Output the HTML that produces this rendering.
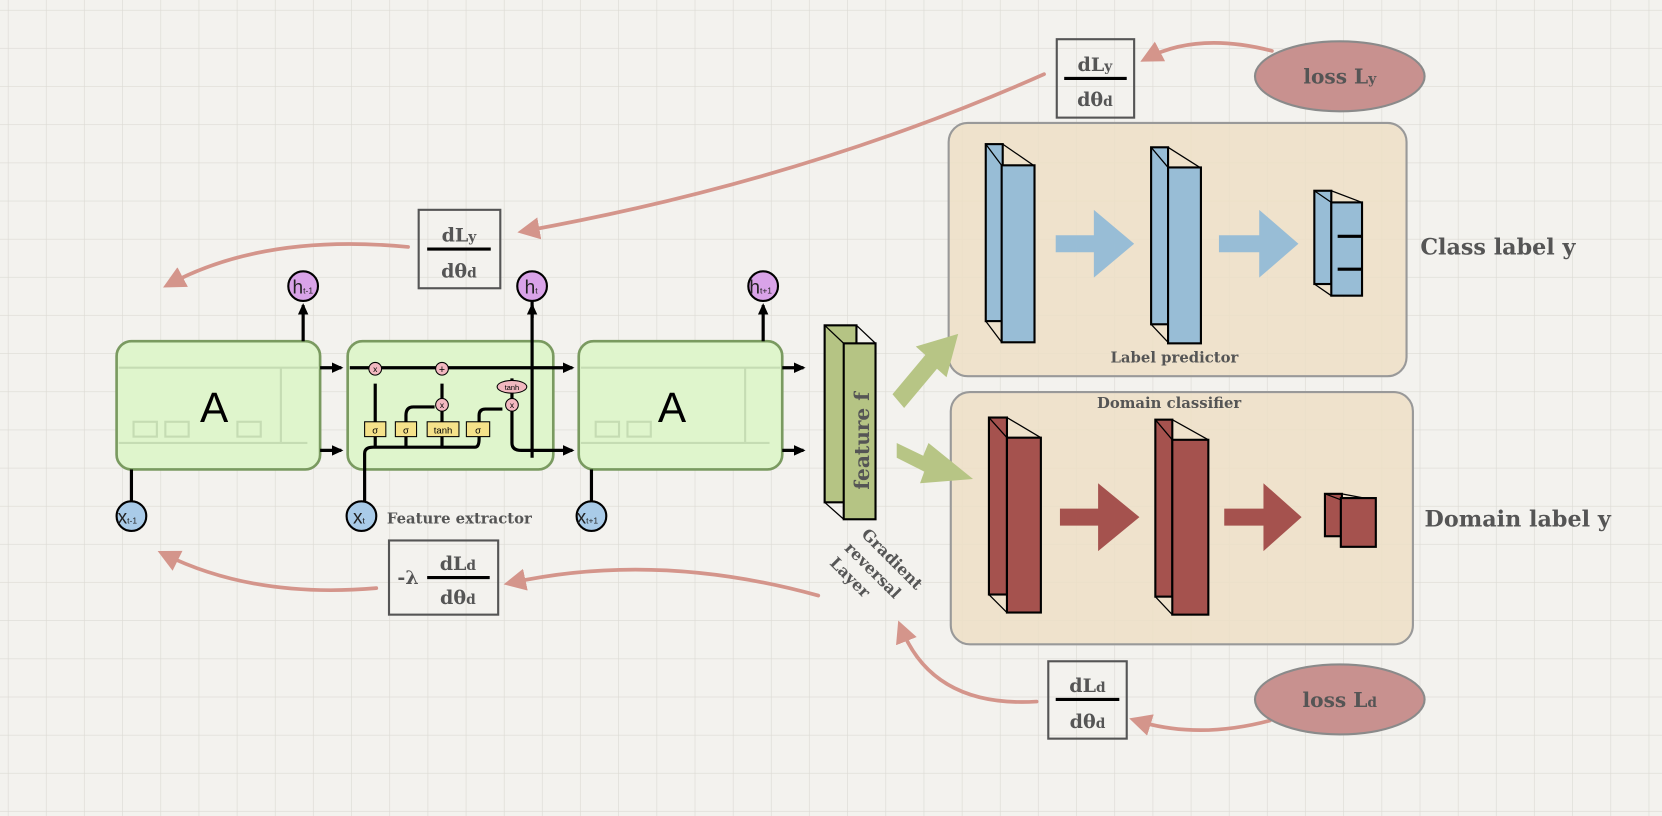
<!DOCTYPE html>
<html><head><meta charset="utf-8"><style>
html,body{margin:0;padding:0;background:#f3f2ee;}
svg{display:block}
text{font-family:"DejaVu Serif","Liberation Serif",serif;font-weight:bold;}
text.sans, .sans text{font-family:"Liberation Sans",sans-serif;font-weight:normal;}
</style></head><body>
<svg width="1662" height="816" viewBox="0 0 1568 770" preserveAspectRatio="none" xmlns="http://www.w3.org/2000/svg">
<defs>
<pattern id="grid" width="36" height="36" patternUnits="userSpaceOnUse" x="8" y="10">
<path d="M36 0V36M0 36H36" fill="none" stroke="#dcdad4" stroke-width="1.2"/>
</pattern>
<marker id="ah" markerWidth="12" markerHeight="12" refX="9" refY="6" orient="auto" markerUnits="userSpaceOnUse"><path d="M0,1 L11,6 L0,11 z" fill="#000"/></marker>
<marker id="sah" markerWidth="6" markerHeight="6" refX="4" refY="3" orient="auto" markerUnits="strokeWidth"><path d="M0,0 L6,3 L0,6 z" fill="#d4958b"/></marker>
</defs>
<rect width="1568" height="770" fill="url(#grid)"/>

<rect x="895" y="116" width="432" height="239" rx="18" fill="#eddfc6" fill-opacity="0.85" stroke="#999" stroke-width="2"/>
<rect x="897" y="370" width="436" height="238" rx="18" fill="#eddfc6" fill-opacity="0.85" stroke="#999" stroke-width="2"/>

<g fill="none" stroke="#d4958b" stroke-width="3.5" stroke-linecap="round">
<path d="M985 70 Q760 170 495 218" marker-end="url(#sah)"/>
<path d="M385 233 Q250 220 160 268" marker-end="url(#sah)"/>
<path d="M1200 48 Q1130 30 1082 55" marker-end="url(#sah)"/>
<path d="M772 562 Q620 520 482 550" marker-end="url(#sah)"/>
<path d="M355 555 Q240 565 155 523" marker-end="url(#sah)"/>
<path d="M1198 680 Q1130 698 1072 680" marker-end="url(#sah)"/>
<path d="M978 662 Q880 668 850 592" marker-end="url(#sah)"/>
</g>

<g>
<rect x="110" y="322" width="192" height="121" rx="14" fill="#dff5cc" stroke="#7a9a60" stroke-width="2.5"/>
<g stroke="#c5dcb3" stroke-width="2" fill="none"><path d="M112 347H300M112 418H290M265 347V418"/><rect x="126" y="398" width="22" height="14"/><rect x="156" y="398" width="22" height="14"/><rect x="224" y="398" width="22" height="14"/></g>
<text class="sans" x="202" y="398" font-size="40" text-anchor="middle">A</text>
</g>
<g>
<rect x="328" y="322" width="194" height="121" rx="14" fill="#dff5cc" stroke="#7a9a60" stroke-width="2.5"/>
<g stroke="#000" stroke-width="3" fill="none">
<path d="M330 347H540" marker-end="url(#ah)"/>
<path d="M344 485V428Q344 422 352 422H448Q452 422 452 414V392Q452 386 458 386H474"/>
<path d="M354 422V362"/><path d="M383 422V392Q383 384 390 384H410"/><path d="M417 422V362"/>
<path d="M483 357V418Q483 425 492 425H540" marker-end="url(#ah)"/>
<path d="M502 432V282"/>
</g>
<g stroke="#000" stroke-width="1"><rect x="344" y="398" width="20" height="14" fill="#f5e28a"/><rect x="373" y="398" width="20" height="14" fill="#f5e28a"/><rect x="403" y="398" width="30" height="14" fill="#f5e28a"/><rect x="440" y="398" width="22" height="14" fill="#f5e28a"/>
<circle cx="354" cy="348" r="6" fill="#f2b8c0"/><circle cx="417" cy="348" r="6" fill="#f2b8c0"/><circle cx="417" cy="382" r="6" fill="#f2b8c0"/><circle cx="483" cy="382" r="6" fill="#f2b8c0"/><ellipse cx="483" cy="365" rx="14" ry="6" fill="#f2b8c0"/></g>
<g class="sans" font-size="9" text-anchor="middle"><text x="354" y="409">σ</text><text x="383" y="409">σ</text><text x="418" y="409">tanh</text><text x="451" y="409">σ</text><text x="483" y="368" font-size="7">tanh</text>
<text x="354" y="351" font-size="8">x</text><text x="417" y="352" font-size="10">+</text><text x="417" y="385" font-size="8">x</text><text x="483" y="385" font-size="8">x</text></g>
</g>
<g>
<rect x="546" y="322" width="192" height="121" rx="14" fill="#dff5cc" stroke="#7a9a60" stroke-width="2.5"/>
<g stroke="#c5dcb3" stroke-width="2" fill="none"><path d="M548 347H736M548 418H726M703 347V418"/><rect x="562" y="398" width="22" height="14"/><rect x="592" y="398" width="22" height="14"/></g>
<text class="sans" x="634" y="398" font-size="40" text-anchor="middle">A</text>
</g>
<g stroke="#000" stroke-width="3" fill="none">
<path d="M302 347H322" marker-end="url(#ah)"/><path d="M302 425H322" marker-end="url(#ah)"/>
<path d="M738 347H758" marker-end="url(#ah)"/><path d="M738 425H758" marker-end="url(#ah)"/>
<path d="M286 322V288" marker-end="url(#ah)"/><path d="M720 322V288" marker-end="url(#ah)"/>
<path d="M502 300V288" marker-end="url(#ah)"/>
<path d="M124 443V473"/><path d="M558 443V473"/>
</g>
<g stroke="#000" stroke-width="2">
<circle cx="286" cy="270" r="14" fill="#d9a3e8"/>
<circle cx="502" cy="270" r="14" fill="#d9a3e8"/>
<circle cx="720" cy="270" r="14" fill="#d9a3e8"/>
<circle cx="124" cy="487" r="14" fill="#a9cbe8"/>
<circle cx="341" cy="487" r="14" fill="#a9cbe8"/>
<circle cx="558" cy="487" r="14" fill="#a9cbe8"/>
</g>
<g class="sans" font-size="18" fill="#222">
<text x="276" y="277">h<tspan font-size="8">t-1</tspan></text><text x="495" y="277">h<tspan font-size="8">t</tspan></text><text x="707" y="277">h<tspan font-size="8">t+1</tspan></text>
<text x="111" y="494">x<tspan font-size="8">t-1</tspan></text><text x="333" y="494">x<tspan font-size="8">t</tspan></text><text x="544" y="494">x<tspan font-size="8">t+1</tspan></text>
</g>
<text x="365" y="494" font-size="14" fill="#555">Feature extractor</text>

<g stroke="#000" stroke-width="2">
<rect x="778" y="307" width="30" height="167" fill="#b5c484"/>
<path d="M778 307L796 324M808 307L826 324M778 474L796 490" fill="none" stroke-width="1.2"/>
<rect x="796" y="324" width="30" height="166" fill="#b5c484"/>
</g>
<text transform="translate(820 462) rotate(-90)" font-size="19" fill="#555">feature f</text>
<g fill="#b7c585">
<polygon points="842,372 873,335 864,327 904,315 893,356 884,348 853,385"/>
<polygon points="846,418 871,430 876,418 918,452 868,456 872,445 846,432"/>
</g>

<g stroke="#000" stroke-width="2">
<rect x="930" y="136" width="16" height="167" fill="#98bdd6"/><path d="M930 136L945 156M946 136L975 156M930 303L945 323" stroke-width="1.2" fill="none"/><rect x="945" y="156" width="31" height="167" fill="#98bdd6"/>
<rect x="1086" y="139" width="16" height="167" fill="#98bdd6"/><path d="M1086 139L1102 158M1102 139L1132 158M1086 306L1102 323" stroke-width="1.2" fill="none"/><rect x="1102" y="158" width="31" height="166" fill="#98bdd6"/>
<rect x="1240" y="180" width="16" height="88" fill="#98bdd6"/><path d="M1240 180L1256 191M1256 180L1285 191M1240 268L1256 279" stroke-width="1.2" fill="none"/><rect x="1256" y="191" width="29" height="88" fill="#98bdd6"/>
<path d="M1262 223H1285M1262 254H1285" stroke-width="3"/>
</g>
<g fill="#98bdd6">
<polygon points="996,222 1032,222 1032,198 1070,230 1032,262 1032,238 996,238"/>
<polygon points="1150,222 1188,222 1188,198 1225,230 1188,262 1188,238 1150,238"/>
</g>
<g stroke="#000" stroke-width="2">
<rect x="933" y="394" width="17" height="167" fill="#a5524e"/><path d="M933 394L950 413M950 394L982 413M933 561L950 578" stroke-width="1.2" fill="none"/><rect x="950" y="413" width="32" height="165" fill="#a5524e"/>
<rect x="1090" y="396" width="16" height="167" fill="#a5524e"/><path d="M1090 396L1106 415M1106 396L1140 415M1090 563L1106 580" stroke-width="1.2" fill="none"/><rect x="1106" y="415" width="34" height="165" fill="#a5524e"/>
<rect x="1250" y="466" width="16" height="40" fill="#a5524e"/><path d="M1250 466L1266 472M1266 466L1298 472" stroke-width="1.2" fill="none"/><rect x="1265" y="470" width="33" height="46" fill="#a5524e"/>
</g>
<g fill="#a5524e">
<polygon points="1000,480 1036,480 1036,456 1075,488 1036,520 1036,496 1000,496"/>
<polygon points="1155,480 1192,480 1192,456 1228,488 1192,520 1192,496 1155,496"/>
</g>
<g fill="#555">
<text x="1108" y="342" font-size="14" text-anchor="middle">Label predictor</text>
<text x="1103" y="385" font-size="14" text-anchor="middle">Domain classifier</text>
<text x="1340" y="240" font-size="21">Class label y</text>
<text x="1344" y="497" font-size="21">Domain label y</text>
<text font-size="15" transform="translate(812 505) rotate(45)">Gradient</text>
<text font-size="15" transform="translate(796 518) rotate(45)">reversal</text>
<text font-size="15" transform="translate(782 532) rotate(45)">Layer</text>
</g>

<g><ellipse cx="1264" cy="72" rx="80" ry="33" fill="#c8918f" stroke="#8a8a8a" stroke-width="2"/><text x="1264" y="79" font-size="19" fill="#555" text-anchor="middle">loss L<tspan font-size="13">y</tspan></text></g>
<g><ellipse cx="1264" cy="660" rx="80" ry="33" fill="#c8918f" stroke="#8a8a8a" stroke-width="2"/><text x="1264" y="667" font-size="19" fill="#555" text-anchor="middle">loss L<tspan font-size="13">d</tspan></text></g>

<g fill="#555" font-size="18" text-anchor="middle">
<g><rect x="997" y="37" width="73" height="74" fill="none" stroke="#555" stroke-width="2"/><text x="1033" y="67">dL<tspan font-size="13">y</tspan></text><path d="M1004 74H1063" stroke="#000" stroke-width="3"/><text x="1033" y="100">dθ<tspan font-size="13">d</tspan></text></g>
<g><rect x="395" y="198" width="77" height="74" fill="none" stroke="#555" stroke-width="2"/><text x="433" y="228">dL<tspan font-size="13">y</tspan></text><path d="M403 235H463" stroke="#000" stroke-width="3"/><text x="433" y="262">dθ<tspan font-size="13">d</tspan></text></g>
<g><rect x="367" y="510" width="103" height="70" fill="none" stroke="#555" stroke-width="2"/><text x="385" y="551">-λ</text><text x="432" y="538">dL<tspan font-size="13">d</tspan></text><path d="M403 545H462" stroke="#000" stroke-width="3"/><text x="432" y="570">dθ<tspan font-size="13">d</tspan></text></g>
<g><rect x="989" y="624" width="74" height="73" fill="none" stroke="#555" stroke-width="2"/><text x="1026" y="653">dL<tspan font-size="13">d</tspan></text><path d="M996 660H1056" stroke="#000" stroke-width="3"/><text x="1026" y="687">dθ<tspan font-size="13">d</tspan></text></g>
</g>
</svg>
</body></html>
